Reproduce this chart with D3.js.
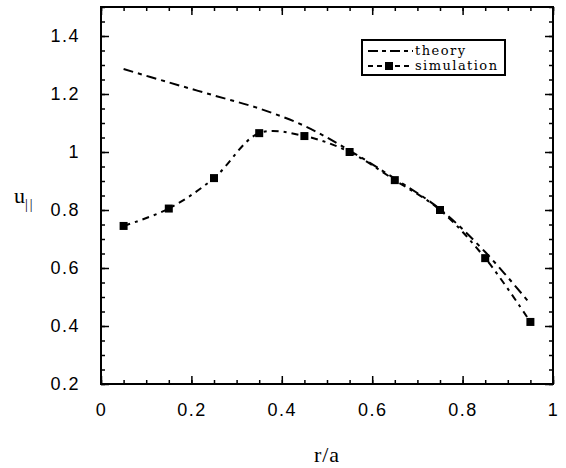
<!DOCTYPE html>
<html>
<head>
<meta charset="utf-8">
<script src="https://cdn.jsdelivr.net/npm/d3@7"></script>
<style>
  body { margin: 0; background: #fff; }
  svg { display: block; }
  .tick text { font-family: "Liberation Sans", Arial, sans-serif; font-size: 18px; letter-spacing: 1.5px; fill: #000; }
  .domain { display: none; }
</style>
</head>
<body>
<svg width="566" height="468"></svg>
<script>
// data
var rVals = [0.05, 0.15, 0.25, 0.35, 0.45, 0.55, 0.65, 0.75, 0.85, 0.95];
var simulation = [0.745, 0.805, 0.91, 1.065, 1.055, 1.0, 0.903, 0.80, 0.634, 0.414];
var theory = [1.286, 1.24, 1.195, 1.15, 1.09, 1.005, 0.908, 0.803, 0.655, 0.476];
var xTicks = [0, 0.2, 0.4, 0.6, 0.8, 1];
var yTicks = [0.2, 0.4, 0.6, 0.8, 1, 1.2, 1.4];
var xMinor = d3.range(0, 21).map(function(i) { return i * 0.05; });
var yMinor = d3.range(4, 31).map(function(i) { return i * 0.05; });

var svg = d3.select('svg');

var x = d3.scaleLinear().domain([0, 1]).range([101, 553]);
var y = d3.scaleLinear().domain([0.2, 1.5]).range([384, 7]);

// minor ticks on all sides (inward)
svg.append('g').attr('transform', 'translate(0,384)')
  .call(d3.axisBottom(x).tickValues(xMinor).tickSize(-4).tickFormat(''));
svg.append('g').attr('transform', 'translate(0,7)')
  .call(d3.axisTop(x).tickValues(xMinor).tickSize(-4).tickFormat(''));
svg.append('g').attr('transform', 'translate(101,0)')
  .call(d3.axisLeft(y).tickValues(yMinor).tickSize(-4).tickFormat(''));
svg.append('g').attr('transform', 'translate(553,0)')
  .call(d3.axisRight(y).tickValues(yMinor).tickSize(-4).tickFormat(''));

// major ticks
svg.append('g').attr('transform', 'translate(0,384)')
  .call(d3.axisBottom(x).tickValues(xTicks).tickSize(-8).tickPadding(19)
    .tickFormat(function(d) { return String(d); }));
svg.append('g').attr('transform', 'translate(0,7)')
  .call(d3.axisTop(x).tickValues(xTicks).tickSize(-8).tickFormat(''));
svg.append('g').attr('transform', 'translate(101,0)')
  .call(d3.axisLeft(y).tickValues(yTicks).tickSize(-8).tickPadding(21)
    .tickFormat(function(d) { return String(d); }));
svg.append('g').attr('transform', 'translate(553,0)')
  .call(d3.axisRight(y).tickValues(yTicks).tickSize(-8).tickFormat(''));

svg.selectAll('.tick line').attr('stroke', '#000').attr('stroke-width', 1.5);

// frame
svg.append('rect')
  .attr('x', 101).attr('y', 7)
  .attr('width', 452).attr('height', 377)
  .attr('fill', 'none').attr('stroke', '#000').attr('stroke-width', 2);

// theory curve
var line = d3.line()
  .x(function(d) { return x(d[0]); })
  .y(function(d) { return y(d[1]); })
  .curve(d3.curveCatmullRom);

svg.append('path')
  .datum(d3.zip(rVals, theory))
  .attr('d', line)
  .attr('fill', 'none')
  .attr('stroke', '#000')
  .attr('stroke-width', 2)
  .attr('stroke-dasharray', '10,5,4,5');

// simulation curve
svg.append('path')
  .datum(d3.zip(rVals, simulation))
  .attr('d', line)
  .attr('fill', 'none')
  .attr('stroke', '#000')
  .attr('stroke-width', 2)
  .attr('stroke-dasharray', '7,5,3,5');

svg.selectAll('.sim')
  .data(d3.zip(rVals, simulation))
  .enter()
  .append('rect')
  .attr('class', 'sim')
  .attr('x', function(d) { return x(d[0]) - 4; })
  .attr('y', function(d) { return y(d[1]) - 4; })
  .attr('width', 8)
  .attr('height', 8)
  .attr('fill', '#000');

// legend
var lg = svg.append('g');
lg.append('rect')
  .attr('x', 362).attr('y', 40)
  .attr('width', 143).attr('height', 35)
  .attr('fill', '#fff').attr('stroke', '#000').attr('stroke-width', 2);
lg.append('line')
  .attr('x1', 368).attr('x2', 413).attr('y1', 51).attr('y2', 51)
  .attr('stroke', '#000').attr('stroke-width', 2)
  .attr('stroke-dasharray', '10,4,4,4');
lg.append('line')
  .attr('x1', 368).attr('x2', 413).attr('y1', 66).attr('y2', 66)
  .attr('stroke', '#000').attr('stroke-width', 2)
  .attr('stroke-dasharray', '5,4');
lg.append('rect')
  .attr('x', 385).attr('y', 62).attr('width', 8).attr('height', 8)
  .attr('fill', '#000');
lg.append('text')
  .attr('x', 415).attr('y', 55)
  .attr('font-family', '"DejaVu Serif", serif').attr('font-size', 13)
  .attr('textLength', 50)
  .text('theory');
lg.append('text')
  .attr('x', 415).attr('y', 70)
  .attr('font-family', '"DejaVu Serif", serif').attr('font-size', 13)
  .attr('textLength', 82)
  .text('simulation');

// axis titles
svg.append('text')
  .attr('x', 327).attr('y', 462)
  .attr('text-anchor', 'middle')
  .attr('font-family', '"Liberation Serif", serif').attr('font-size', 22)
  .attr('letter-spacing', 1)
  .text('r/a');

var yt = svg.append('text')
  .attr('x', 14).attr('y', 203)
  .attr('font-family', '"Liberation Serif", serif').attr('font-size', 22);
yt.append('tspan').text('u');
yt.append('tspan').attr('dy', 6).attr('font-size', 14)
  .attr('letter-spacing', 2).text('||');
</script>
</body>
</html>
